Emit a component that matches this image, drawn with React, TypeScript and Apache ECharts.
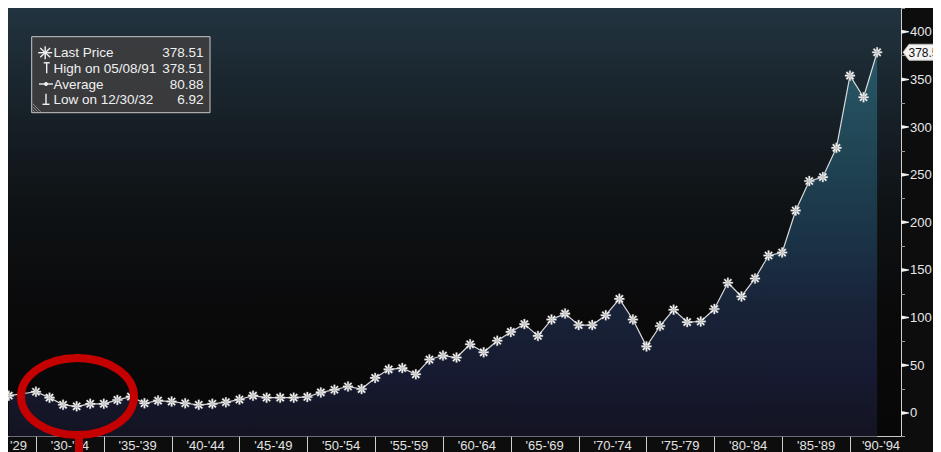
import React, { useEffect, useRef } from 'react';
import * as echarts from 'echarts';

// Year-end values plotted at the start of the following year
const years = [1928, 1930, 1931, 1932, 1933, 1934, 1935, 1936, 1937, 1938, 1939, 1940, 1941, 1942, 1943, 1944, 1945, 1946, 1947, 1948, 1949, 1950, 1951, 1952, 1953, 1954, 1955, 1956, 1957, 1958, 1959, 1960, 1961, 1962, 1963, 1964, 1965, 1966, 1967, 1968, 1969, 1970, 1971, 1972, 1973, 1974, 1975, 1976, 1977, 1978, 1979, 1980, 1981, 1982, 1983, 1984, 1985, 1986, 1987, 1988, 1989, 1990, 1991, 1992];
const values = [18.1, 22.2, 16.0, 8.5, 6.92, 9.5, 9.5, 13.6, 17.1, 10.1, 12.9, 11.9, 10.1, 8.5, 9.5, 11.2, 14.0, 18.1, 16.0, 16.0, 16.0, 16.7, 21.5, 24.3, 27.7, 25.0, 36.7, 45.7, 47.0, 40.5, 56.0, 60.2, 58.1, 72.0, 63.6, 75.7, 85.0, 93.2, 80.8, 98.0, 104.2, 92.2, 92.2, 102.5, 119.7, 98.0, 69.8, 91.2, 108.3, 95.3, 95.9, 109.0, 136.6, 122.2, 141.1, 165.2, 168.3, 212.4, 243.4, 247.5, 278.2, 354.0, 331.3, 378.51];

const bandStarts = [1930, 1935, 1940, 1945, 1950, 1955, 1960, 1965, 1970, 1975, 1980, 1985, 1990];
const bandLabels = ["'30-'34", "'35-'39", "'40-'44", "'45-'49", "'50-'54", "'55-'59", "'60-'64", "'65-'69", "'70-'74", "'75-'79", "'80-'84", "'85-'89", "'90-'94"];
const firstLabel = "'29";
const yMajorTicks = [0, 50, 100, 150, 200, 250, 300, 350, 400];

const legendLabels = ['Last Price', 'High on 05/08/91', 'Average', 'Low on 12/30/32'];
const legendValues = ['378.51', '378.51', '80.88', '6.92'];
const lastPrice = 378.51;

const FONT = "'Liberation Sans', Arial, sans-serif";

function starPath(L: number, w: number) {
  let d = '';
  for (const deg of [0, 45, 90, 135]) {
    const a = (deg * Math.PI) / 180;
    const c = Math.cos(a), s = Math.sin(a);
    const nx = -s * w, ny = c * w, dx = c * L, dy = s * L;
    const pts = [[dx + nx, dy + ny], [dx - nx, dy - ny], [-dx - nx, -dy - ny], [-dx + nx, -dy + ny]];
    d += 'M' + pts.map((p) => p[0].toFixed(2) + ',' + p[1].toFixed(2)).join('L') + 'Z';
  }
  return 'path://' + d;
}

export default function App() {
  const ref = useRef<HTMLDivElement>(null);
  useEffect(() => {
    if (!ref.current) return;
    const chart = echarts.init(ref.current, undefined, { renderer: 'svg' });
    const xMin = 1927.94, xMax = 1993.76;
    chart.setOption({
      animation: false,
      backgroundColor: '#0d0d0d',
      grid: {
        left: 0, right: 40, top: -7.16, bottom: 15.3, show: true, borderWidth: 0,
        backgroundColor: new echarts.graphic.LinearGradient(0, 0, 0, 1, [
          { offset: 0, color: '#223440' },
          { offset: 0.2, color: '#19242c' },
          { offset: 0.45, color: '#0f1316' },
          { offset: 0.7, color: '#0a0a0b' },
          { offset: 1, color: '#070707' },
        ]),
      },
      xAxis: {
        type: 'value', min: xMin, max: xMax,
        axisLine: { show: true, onZero: false, lineStyle: { color: '#c8c8c8', width: 1 } },
        axisTick: { show: false }, axisLabel: { show: false }, splitLine: { show: false },
      },
      yAxis: {
        type: 'value', position: 'right', min: -25, max: 425, interval: 25,
        axisLine: { show: true, lineStyle: { color: '#d0d0d0', width: 1 } },
        axisTick: { show: true, length: 4, lineStyle: { color: '#9a9a9a', width: 1 } },
        splitLine: { show: false },
        axisLabel: {
          margin: 9, color: '#e8e8e8', fontSize: 13, fontFamily: FONT,
          formatter: (v: number) => (v >= 0 && v <= 400 && v % 50 === 0 ? String(v) : ''),
        },
      },
      series: [
        {
          type: 'line',
          data: years.map((y, i) => [y, values[i]]),
          symbol: starPath(5, 0.8),
          symbolSize: 10,
          showAllSymbol: true,
          itemStyle: { color: '#ffffff', borderColor: 'rgba(170,170,170,0.8)', borderWidth: 0.5 },
          lineStyle: { color: '#d9d9d9', width: 1.2 },
          areaStyle: {
            origin: 'start',
            color: new echarts.graphic.LinearGradient(0, 0, 0, 1, [
              { offset: 0, color: '#2d6b7c' },
              { offset: 0.3, color: '#245468' },
              { offset: 0.5, color: '#20405b' },
              { offset: 0.65, color: '#1e2e4c' },
              { offset: 0.85, color: '#1c2140' },
              { offset: 1, color: '#18182c' },
            ]),
          },
          z: 2,
        },
      ],
    });

    const px = (x: number) => chart.convertToPixel({ xAxisIndex: 0 }, x) as number;
    const py = (y: number) => chart.convertToPixel({ yAxisIndex: 0 }, y) as number;
    const axisY = py(-25);
    const axisX = px(xMax);
    const plotLeft = px(xMin);
    const g: any[] = [];

    // bottom band separators and labels
    const bandEnds = bandStarts.map((b, i) => (i < bandStarts.length - 1 ? bandStarts[i + 1] : b + 5));
    const labelStyle = { fill: '#e2e2e2', fontSize: 13, fontFamily: FONT, verticalAlign: 'middle' };
    bandStarts.forEach((b, i) => {
      const x = Math.round(px(b)) + 0.5;
      g.push({ type: 'line', shape: { x1: x, y1: axisY, x2: x, y2: axisY + 20 }, style: { stroke: '#cfcfcf', lineWidth: 1 }, z: 5 });
      const cx = (px(b) + px(bandEnds[i])) / 2;
      g.push({ type: 'text', x: Math.min(cx, axisX - 20), y: axisY + 9, style: { ...labelStyle, text: bandLabels[i], align: 'center' }, z: 5 });
    });
    g.push({ type: 'text', x: plotLeft + 2, y: axisY + 9, style: { ...labelStyle, text: firstLabel, align: 'left' }, z: 5 });

    // major tick flags
    yMajorTicks.forEach((t) => {
      const y = py(t);
      g.push({ type: 'polygon', shape: { points: [[axisX, y - 2], [axisX, y + 2], [axisX + 8, y + 0.5], [axisX + 8, y - 0.5]] }, style: { fill: '#f0f0f0' }, z: 5 });
    });

    // last price tag
    const ly = py(lastPrice);
    g.push({ type: 'polygon', shape: { points: [[axisX + 2, ly], [axisX + 8, ly - 8], [axisX + 60, ly - 8], [axisX + 60, ly + 8], [axisX + 8, ly + 8]] }, style: { fill: '#f4f4f4', stroke: '#bbbbbb', lineWidth: 1 }, z: 6 });
    g.push({ type: 'text', x: axisX + 7.5, y: ly + 1, style: { text: lastPrice.toFixed(1), fill: '#111111', fontSize: 12, fontFamily: FONT, align: 'left', verticalAlign: 'middle' }, z: 7 });

    // legend box
    const lx = 23.7, ly0 = 28.7, lw = 178.3, lh = 76;
    g.push({ type: 'rect', shape: { x: lx, y: ly0, width: lw, height: lh }, style: { fill: 'rgba(60,60,62,0.95)', stroke: '#c8c8c8', lineWidth: 1 }, z: 10 });
    const rowY = [44.7, 60.3, 76, 91.3];
    legendLabels.forEach((lab, i) => {
      g.push({ type: 'text', x: 45.5, y: rowY[i], style: { text: lab, fill: '#f0f0f0', fontSize: 13.5, fontFamily: FONT, align: 'left', verticalAlign: 'middle' }, z: 11 });
      g.push({ type: 'text', x: 195.5, y: rowY[i], style: { text: legendValues[i], fill: '#f0f0f0', fontSize: 13.5, fontFamily: FONT, align: 'right', verticalAlign: 'middle' }, z: 11 });
    });
    const ic = { stroke: '#f0f0f0', lineWidth: 1.4 };
    // star icon
    const sx = 37.2, sy = rowY[0];
    [[7, 0], [0, 6.5], [5, 4.6], [5, -4.6]].forEach(([dx, dy]) => {
      g.push({ type: 'line', shape: { x1: sx - dx, y1: sy - dy, x2: sx + dx, y2: sy + dy }, style: ic, z: 11 });
    });
    // high icon
    const hx = 38.7, hy = rowY[1];
    g.push({ type: 'line', shape: { x1: hx, y1: hy - 5.5, x2: hx, y2: hy + 5 }, style: ic, z: 11 });
    g.push({ type: 'line', shape: { x1: hx - 3, y1: hy - 5.5, x2: hx + 3, y2: hy - 5.5 }, style: ic, z: 11 });
    // average icon
    const ay = rowY[2];
    g.push({ type: 'line', shape: { x1: 31, y1: ay, x2: 45, y2: ay }, style: ic, z: 11 });
    g.push({ type: 'circle', shape: { cx: 38, cy: ay, r: 2 }, style: { fill: '#f0f0f0' }, z: 11 });
    // low icon
    const wx = 38, wy = rowY[3];
    g.push({ type: 'line', shape: { x1: wx, y1: wy - 5.5, x2: wx, y2: wy + 5 }, style: ic, z: 11 });
    g.push({ type: 'line', shape: { x1: wx - 3.5, y1: wy + 5, x2: wx + 3.5, y2: wy + 5 }, style: ic, z: 11 });
    // resize grip
    [3, 6, 9].forEach((d) => {
      g.push({ type: 'line', shape: { x1: lx + 1, y1: ly0 + lh - d, x2: lx + d, y2: ly0 + lh - 1 }, style: { stroke: '#8a8a8a', lineWidth: 1 }, z: 11 });
    });

    // red annotation
    g.push({ type: 'ellipse', shape: { cx: 69.5, cy: 388.5, rx: 56.5, ry: 38.5 }, style: { fill: 'none', stroke: '#c40000', lineWidth: 8 }, z: 20 });
    g.push({ type: 'line', shape: { x1: 71, y1: 426, x2: 71, y2: 450 }, style: { stroke: '#c40000', lineWidth: 8 }, z: 20 });

    chart.setOption({ graphic: g });
    return () => chart.dispose();
  }, []);
  return <div ref={ref} style={{ width: 933, height: 444 }} />;
}
